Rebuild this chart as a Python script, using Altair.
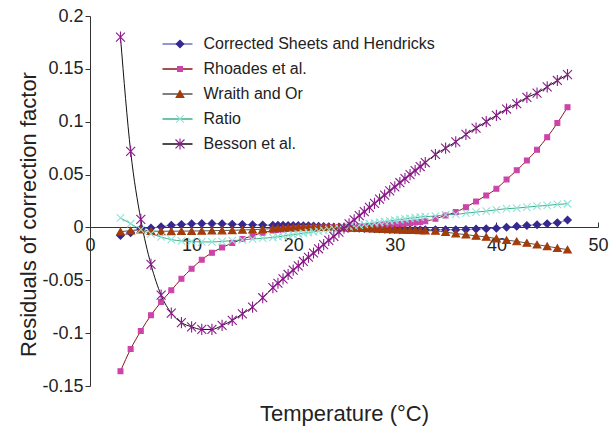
import altair as alt
import pandas as pd

FONT = "Liberation Sans"

series_names = ["Corrected Sheets and Hendricks", "Rhoades et al.", "Wraith and Or", "Ratio", "Besson et al."]

temps = [3, 4, 5, 6, 7, 8, 9, 10, 11, 12, 13, 14, 15, 16, 17,
         18, 18.5, 19, 19.5, 20, 20.5, 21, 21.5, 22, 22.5, 23, 23.5, 24, 24.5, 25, 25.5,
         26, 26.5, 27, 27.5, 28, 28.5, 29, 29.5, 30, 30.5, 31, 31.5, 32, 32.5, 33,
         34, 35, 36, 37, 38, 39, 40, 41, 42, 43, 44, 45, 46, 47]

sheets = [-0.0076, -0.0050, -0.0012, -0.0006, 0.0007, 0.0020, 0.0028, 0.0034, 0.0036, 0.0036, 0.0034, 0.0031, 0.0028, 0.0025, 0.0023,
          0.0021, 0.0021, 0.0020, 0.0019, 0.0018, 0.0017, 0.0016, 0.0015, 0.0013, 0.0011, 0.0009, 0.0007, 0.0005, 0.0003, 0.0000, -0.0003,
          -0.0005, -0.0007, -0.0009, -0.0011, -0.0013, -0.0015, -0.0017, -0.0019, -0.0020, -0.0021, -0.0022, -0.0022, -0.0023, -0.0023, -0.0023,
          -0.0022, -0.0022, -0.0021, -0.0019, -0.0015, -0.0012, -0.0007, 0.0002, 0.0011, 0.0019, 0.0026, 0.0035, 0.0045, 0.0070]

rhoades = [-0.136, -0.115, -0.098, -0.083, -0.0705, -0.0595, -0.0485, -0.0390, -0.0305, -0.0240, -0.0190, -0.0148, -0.0110, -0.0078, -0.0050,
           -0.0030, -0.0025, -0.0020, -0.0016, -0.0013, -0.0010, -0.0008, -0.0006, -0.0004, -0.0002, -0.0001, 0.0000, 0.0002, 0.0003, 0.0004, 0.0005,
           0.0007, 0.0009, 0.0011, 0.0013, 0.0016, 0.0019, 0.0022, 0.0025, 0.0029, 0.0033, 0.0037, 0.0041, 0.0046, 0.0052, 0.0058,
           0.0082, 0.0114, 0.0145, 0.0192, 0.0246, 0.0303, 0.0366, 0.0454, 0.0540, 0.0634, 0.0735, 0.0854, 0.0987, 0.1138]

wraith = [-0.0040, -0.0030, -0.0020, -0.0035, -0.0036, -0.0036, -0.0035, -0.0034, -0.0033, -0.0031, -0.0029, -0.0027, -0.0024, -0.0021, -0.0017,
          -0.0010, -0.0007, -0.0004, -0.0002, 0.0000, 0.0002, 0.0003, 0.0004, 0.0004, 0.0004, 0.0004, 0.0003, 0.0002, 0.0001, 0.0000, -0.0001,
          -0.0003, -0.0005, -0.0007, -0.0009, -0.0011, -0.0013, -0.0015, -0.0017, -0.0019, -0.0021, -0.0023, -0.0025, -0.0026, -0.0028, -0.0030,
          -0.0033, -0.0044, -0.0058, -0.0068, -0.0080, -0.0090, -0.0105, -0.0120, -0.0132, -0.0147, -0.0163, -0.0178, -0.0195, -0.0210]

ratio = [0.0090, 0.0035, -0.0020, -0.0060, -0.0090, -0.0115, -0.0128, -0.0133, -0.0137, -0.0137, -0.0132, -0.0125, -0.0118, -0.0110, -0.0102,
         -0.0095, -0.0088, -0.0082, -0.0075, -0.0068, -0.0062, -0.0055, -0.0048, -0.0041, -0.0034, -0.0027, -0.0020, -0.0013, -0.0006, 0.0001, 0.0008,
         0.0015, 0.0022, 0.0029, 0.0036, 0.0042, 0.0049, 0.0055, 0.0062, 0.0068, 0.0074, 0.0080, 0.0086, 0.0092, 0.0098, 0.0103,
         0.0107, 0.0120, 0.0123, 0.0135, 0.0145, 0.0154, 0.0167, 0.0177, 0.0183, 0.0192, 0.0201, 0.0208, 0.0218, 0.0224]

besson = [0.180, 0.072, 0.0076, -0.035, -0.064, -0.081, -0.090, -0.094, -0.0965, -0.0965, -0.0927, -0.088, -0.0817, -0.0754, -0.0665,
          -0.0570, -0.0528, -0.0486, -0.0445, -0.0404, -0.0363, -0.0322, -0.0282, -0.0242, -0.0202, -0.0162, -0.0123, -0.0084, -0.0045, -0.0006, 0.0033,
          0.0072, 0.0111, 0.0150, 0.0189, 0.0228, 0.0267, 0.0306, 0.0345, 0.0384, 0.0423, 0.0462, 0.0500, 0.0538, 0.0576, 0.0614,
          0.069, 0.075, 0.081, 0.088, 0.094, 0.100, 0.106, 0.112, 0.117, 0.123, 0.127, 0.133, 0.139, 0.1445]

x_ticks = [0, 10, 20, 30, 40, 50]
y_ticks = [-0.15, -0.1, -0.05, 0, 0.05, 0.1, 0.15, 0.2]

marker_colors = ["#35288f", "#cc44aa", "#a33c0a", "#8fe3da", "#8b1a8b"]
line_colors = ["#7272c8", "#8b1515", "#555555", "#3cb284", "#111111"]
marker_shapes = ["diamond", "square", "triangle-up",
                 "M-1,-1L1,1M-1,1L1,-1",
                 "M-1,-1L1,1M-1,1L1,-1M0,-1.25L0,1.25"]
marker_sizes = [56, 24, 60, 56, 80]

rows = []
for name, vals in zip(series_names, [sheets, rhoades, wraith, ratio, besson]):
    for t, v in zip(temps, vals):
        rows.append({"temp": t, "value": v, "series": name, "line_series": name})
df = pd.DataFrame(rows)

x_scale = alt.Scale(domain=[0, 50], nice=False)
y_scale = alt.Scale(domain=[-0.15, 0.2], nice=False)

y_axis = alt.Axis(values=y_ticks, grid=False, tickSize=5, labelPadding=2,
                  labelExpr="datum.value == 0 ? '0' : (datum.value < 0 ? '-' : '') + format(abs(datum.value), '~g')",
                  domainColor="#333333", tickColor="#333333",
                  title="Residuals of correction factor", titleX=-62, titleY=198,
                  titleBaseline="middle", titleAlign="center")

line_legend = alt.Legend(orient="none", legendX=71.5, legendY=15.6, title=None,
                         symbolType="stroke", symbolSize=900, symbolStrokeWidth=1.5,
                         labelFontSize=16, labelFont=FONT, labelColor="#222222", labelLimit=0,
                         labelOffset=10, clipHeight=24.75, rowPadding=0, padding=0)
point_legend = alt.Legend(orient="none", legendX=82, legendY=15.6, title=None,
                          symbolStrokeWidth=1.1, labelExpr="''", labelFontSize=16,
                          clipHeight=24.75, rowPadding=0, padding=0)

lines = alt.Chart(df).mark_line(interpolate="monotone", strokeWidth=1).encode(
    x=alt.X("temp:Q", scale=x_scale,
            axis=alt.Axis(orient="top", offset=-211, labels=False, title=None, ticks=True,
                          tickSize=5, values=x_ticks, domain=True, grid=False,
                          domainColor="#333333", tickColor="#333333")),
    y=alt.Y("value:Q", scale=y_scale, axis=y_axis),
    color=alt.Color("line_series:N", sort=series_names,
                    scale=alt.Scale(range=line_colors), legend=line_legend),
)

points = alt.Chart(df).mark_point(filled=True, strokeWidth=1.1, opacity=1).encode(
    x=alt.X("temp:Q", scale=x_scale,
            axis=alt.Axis(orient="bottom", offset=-159, ticks=False, domain=False,
                          labels=True, values=x_ticks, labelPadding=9, grid=False,
                          labelFlush=False,
                          title="Temperature (°C)", titleY=186, titleBaseline="middle")),
    y=alt.Y("value:Q", scale=y_scale, axis=y_axis),
    fill=alt.Fill("series:N", scale=alt.Scale(domain=series_names, range=marker_colors), legend=point_legend),
    stroke=alt.Stroke("series:N", scale=alt.Scale(domain=series_names, range=marker_colors), legend=point_legend),
    shape=alt.Shape("series:N", scale=alt.Scale(domain=series_names, range=marker_shapes), legend=point_legend),
    size=alt.Size("series:N", scale=alt.Scale(type="ordinal", domain=series_names, range=marker_sizes), legend=point_legend),
)

chart = alt.layer(lines, points).resolve_axis(x="independent").properties(
    width=508, height=370,
    autosize=alt.AutoSizeParams(type="none"),
    padding={"left": 90, "top": 16, "right": 11, "bottom": 43},
    background="white",
).configure_view(strokeWidth=0).configure_axis(
    labelFont=FONT, titleFont=FONT, labelFontSize=18, titleFontSize=22,
    labelColor="#222222", titleColor="#222222", titleFontWeight="normal",
).configure_legend(labelFont=FONT)

chart.save("out.html", embed_options={"renderer": "svg", "actions": False})
